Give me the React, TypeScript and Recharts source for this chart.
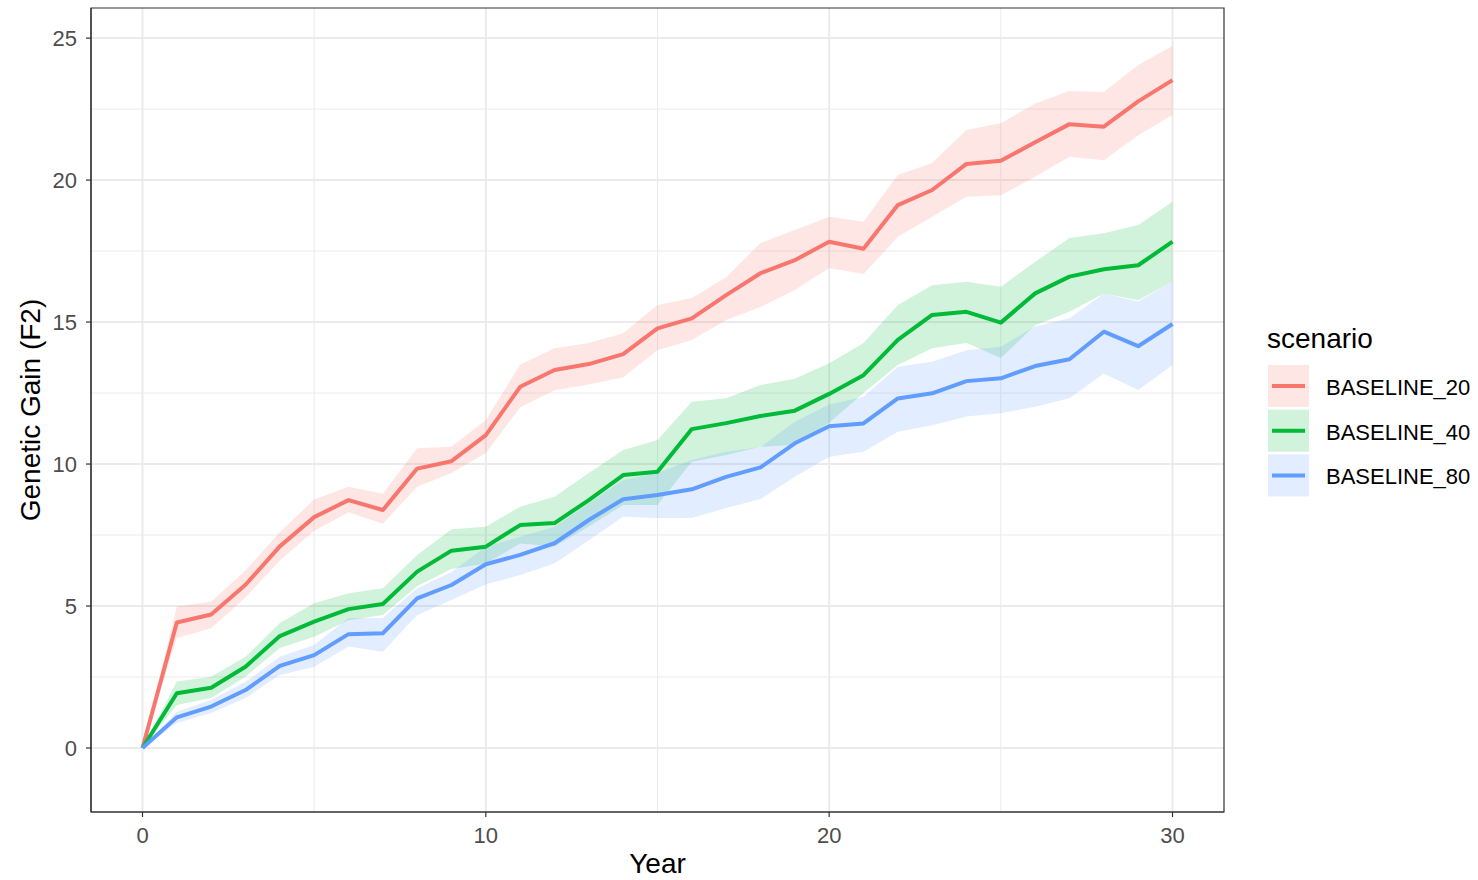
import React from "react";
import {
  ComposedChart,
  Line,
  Area,
  XAxis,
  YAxis,
  CartesianGrid,
  ReferenceArea,
  Legend,
} from "recharts";

const FONT = '"Liberation Sans", Arial, Helvetica, sans-serif';

// ---- data ----
const years = [
  0, 1, 2, 3, 4, 5, 6, 7, 8, 9, 10, 11, 12, 13, 14, 15, 16, 17, 18, 19, 20,
  21, 22, 23, 24, 25, 26, 27, 28, 29, 30,
];

const base20Mean = [
  0, 4.42, 4.7, 5.75, 7.1, 8.13, 8.73, 8.38, 9.84, 10.1, 11.02, 12.72, 13.31,
  13.52, 13.87, 14.78, 15.13, 15.95, 16.72, 17.18, 17.83, 17.58, 19.12, 19.65,
  20.57, 20.68, 21.33, 21.97, 21.88, 22.77, 23.52,
];
const base20Low = [
  0, 3.87, 4.22, 5.3, 6.6, 7.65, 8.3, 7.9, 9.2, 9.68, 10.39, 12.0, 12.6, 12.8,
  13.06, 14.01, 14.37, 15.07, 15.53, 16.13, 16.9, 16.69, 18.0, 18.71, 19.41,
  19.47, 20.12, 20.82, 20.7, 21.58, 22.29,
];
const base20High = [
  0, 4.98, 5.15, 6.25, 7.6, 8.75, 9.2, 8.95, 10.56, 10.61, 11.55, 13.5, 14.08,
  14.26, 14.61, 15.6, 15.85, 16.58, 17.78, 18.24, 18.71, 18.53, 20.18, 20.6,
  21.76, 22.0, 22.7, 23.14, 23.1, 24.05, 24.72,
];

const base40Mean = [
  0, 1.93, 2.12, 2.86, 3.94, 4.45, 4.89, 5.07, 6.21, 6.95, 7.09, 7.85, 7.92,
  8.73, 9.61, 9.73, 11.23, 11.44, 11.69, 11.88, 12.47, 13.13, 14.37, 15.25,
  15.36, 14.98, 16.01, 16.6, 16.86, 17.0, 17.83,
];
const base40Low = [
  0, 1.51, 1.76, 2.51, 3.52, 3.92, 4.5, 4.68, 5.7, 6.3, 6.5, 7.2, 7.1, 7.8,
  8.56, 8.56, 10.08, 10.32, 10.61, 10.67, 11.45, 12.5, 13.49, 14.08, 14.26,
  13.73, 14.89, 15.36, 16.01, 15.77, 16.42,
];
const base40High = [
  0, 2.34, 2.51, 3.21, 4.4, 5.1, 5.45, 5.63, 6.8, 7.7, 7.79, 8.5, 8.85, 9.68,
  10.49, 10.85, 12.19, 12.32, 12.78, 13.0, 13.55, 14.26, 15.6, 16.3, 16.42,
  16.24, 17.12, 17.96, 18.13, 18.42, 19.24,
];

const base80Mean = [
  0, 1.08, 1.46, 2.04, 2.89, 3.27, 4.01, 4.04, 5.27, 5.74, 6.47, 6.8, 7.21,
  8.03, 8.76, 8.91, 9.11, 9.55, 9.88, 10.73, 11.33, 11.43, 12.31, 12.49, 12.92,
  13.02, 13.45, 13.69, 14.66, 14.15, 14.93,
];
const base80Low = [
  0, 0.88, 1.23, 1.76, 2.57, 2.86, 3.57, 3.39, 4.68, 5.21, 5.77, 6.09, 6.5,
  7.32, 8.14, 8.1, 8.1, 8.45, 8.77, 9.55, 10.26, 10.43, 11.14, 11.37, 11.67,
  11.79, 12.02, 12.32, 13.19, 12.61, 13.49,
];
const base80High = [
  0, 1.28, 1.69, 2.33, 3.21, 3.63, 4.58, 4.58, 5.63, 6.2, 7.09, 7.44, 7.79,
  8.62, 9.44, 9.68, 10.14, 10.43, 10.6, 11.49, 12.1, 12.37, 13.43, 13.6, 14.01,
  14.13, 14.84, 15.13, 16.01, 15.72, 16.42,
];

const seriesNames = ["BASELINE_20", "BASELINE_40", "BASELINE_80"];
const seriesColors = ["#F8766D", "#00BA38", "#619CFF"];

const xMajorTicks = [0, 10, 20, 30];
const xMinorTicks = [5, 15, 25];
const yMajorTicks = [0, 5, 10, 15, 20, 25];
const yMinorTicks = [2.5, 7.5, 12.5, 17.5, 22.5];
const X_DOMAIN: [number, number] = [-1.5, 31.5];
const Y_DOMAIN: [number, number] = [-2.254, 26.06];

const means = [base20Mean, base40Mean, base80Mean];
const lows = [base20Low, base40Low, base80Low];
const highs = [base20High, base40High, base80High];

const data = years.map((y, i) => {
  const row: any = { year: y };
  seriesNames.forEach((n, s) => {
    row[n] = means[s][i];
    row[n + "_band"] = [lows[s][i], highs[s][i]];
  });
  return row;
});

const RIBBON_OPACITY = 0.18;

const renderLegend = () => {
  const boxX = 28;
  const rowTop0 = 65;
  const step = 44.7;
  const boxH = 42;
  return (
    <svg width={238} height={220} style={{ display: "block" }}>
      <text x={27} y={48} fontFamily={FONT} fontSize={28} fill="#000">
        scenario
      </text>
      {seriesNames.map((n, i) => {
        const top = rowTop0 + i * step;
        const cy = top + boxH / 2;
        return (
          <g key={n}>
            <rect
              x={boxX}
              y={top}
              width={41}
              height={boxH}
              fill={seriesColors[i]}
              fillOpacity={RIBBON_OPACITY}
            />
            <line
              x1={boxX + 4}
              x2={boxX + 37}
              y1={cy}
              y2={cy}
              stroke={seriesColors[i]}
              strokeWidth={4}
            />
            <text
              x={86}
              y={cy + 9}
              fontFamily={FONT}
              fontSize={22}
              fill="#000"
            >
              {n}
            </text>
          </g>
        );
      })}
    </svg>
  );
};

const YTitle = (props: any) => {
  const vb = props.viewBox || { x: 0, y: 8, width: 91, height: 804 };
  const cy = vb.y + vb.height / 2;
  const x = 40;
  return (
    <text
      x={x}
      y={cy}
      transform={`rotate(-90 ${x} ${cy})`}
      textAnchor="middle"
      fontFamily={FONT}
      fontSize={28}
      fill="#000"
    >
      Genetic Gain (F2)
    </text>
  );
};

const XTitle = (props: any) => {
  const vb = props.viewBox || { x: 91, y: 812, width: 1133, height: 68 };
  const cx = vb.x + vb.width / 2;
  return (
    <text
      x={cx}
      y={vb.y + 61}
      textAnchor="middle"
      fontFamily={FONT}
      fontSize={28}
      fill="#000"
    >
      Year
    </text>
  );
};

export default function App() {
  return (
    <div
      style={{
        position: "absolute",
        left: 0,
        top: 0,
        width: 1478,
        height: 880,
        background: "#fff",
      }}
    >
      <ComposedChart
        width={1478}
        height={880}
        data={data}
        margin={{ top: 8, right: 254, bottom: 0, left: 0 }}
      >
        <CartesianGrid
          stroke="#EBEBEB"
          strokeWidth={1}
          verticalValues={xMinorTicks}
          horizontalValues={yMinorTicks}
        />
        <CartesianGrid
          stroke="#EBEBEB"
          strokeWidth={2}
          verticalValues={xMajorTicks}
          horizontalValues={yMajorTicks}
        />
        <XAxis
          dataKey="year"
          type="number"
          domain={X_DOMAIN}
          ticks={xMajorTicks}
          allowDataOverflow
          height={68}
          tickSize={5}
          tickMargin={10}
          axisLine={{ stroke: "#333333", strokeWidth: 1.2 }}
          tickLine={{ stroke: "#333333", strokeWidth: 1.2 }}
          tick={{ fill: "#4D4D4D", fontSize: 22, fontFamily: FONT }}
          label={<XTitle />}
        />
        <YAxis
          type="number"
          domain={Y_DOMAIN}
          ticks={yMajorTicks}
          allowDataOverflow
          width={91}
          tickSize={5}
          tickMargin={9}
          axisLine={{ stroke: "#333333", strokeWidth: 1.2 }}
          tickLine={{ stroke: "#333333", strokeWidth: 1.2 }}
          tick={{ fill: "#4D4D4D", fontSize: 22, fontFamily: FONT }}
          label={<YTitle />}
        />
        {seriesNames.map((n, i) => (
          <Area
            key={n + "_band"}
            dataKey={n + "_band"}
            type="linear"
            stroke="none"
            fill={seriesColors[i]}
            fillOpacity={RIBBON_OPACITY}
            isAnimationActive={false}
            activeDot={false}
            legendType="none"
          />
        ))}
        {seriesNames.map((n, i) => (
          <Line
            key={n}
            dataKey={n}
            type="linear"
            stroke={seriesColors[i]}
            strokeWidth={4}
            strokeLinejoin="round"
            dot={false}
            activeDot={false}
            isAnimationActive={false}
          />
        ))}
        <ReferenceArea
          x1={X_DOMAIN[0]}
          x2={X_DOMAIN[1]}
          y1={Y_DOMAIN[0]}
          y2={Y_DOMAIN[1]}
          fill="none"
          stroke="#333333"
          strokeWidth={1.2}
          ifOverflow="visible"
        />
        <Legend
          layout="vertical"
          align="center"
          verticalAlign="middle"
          content={renderLegend}
          wrapperStyle={{
            position: "absolute",
            left: 1240,
            top: 300,
            width: 238,
            height: 220,
            right: "auto",
            bottom: "auto",
            margin: 0,
          }}
        />
      </ComposedChart>
    </div>
  );
}
